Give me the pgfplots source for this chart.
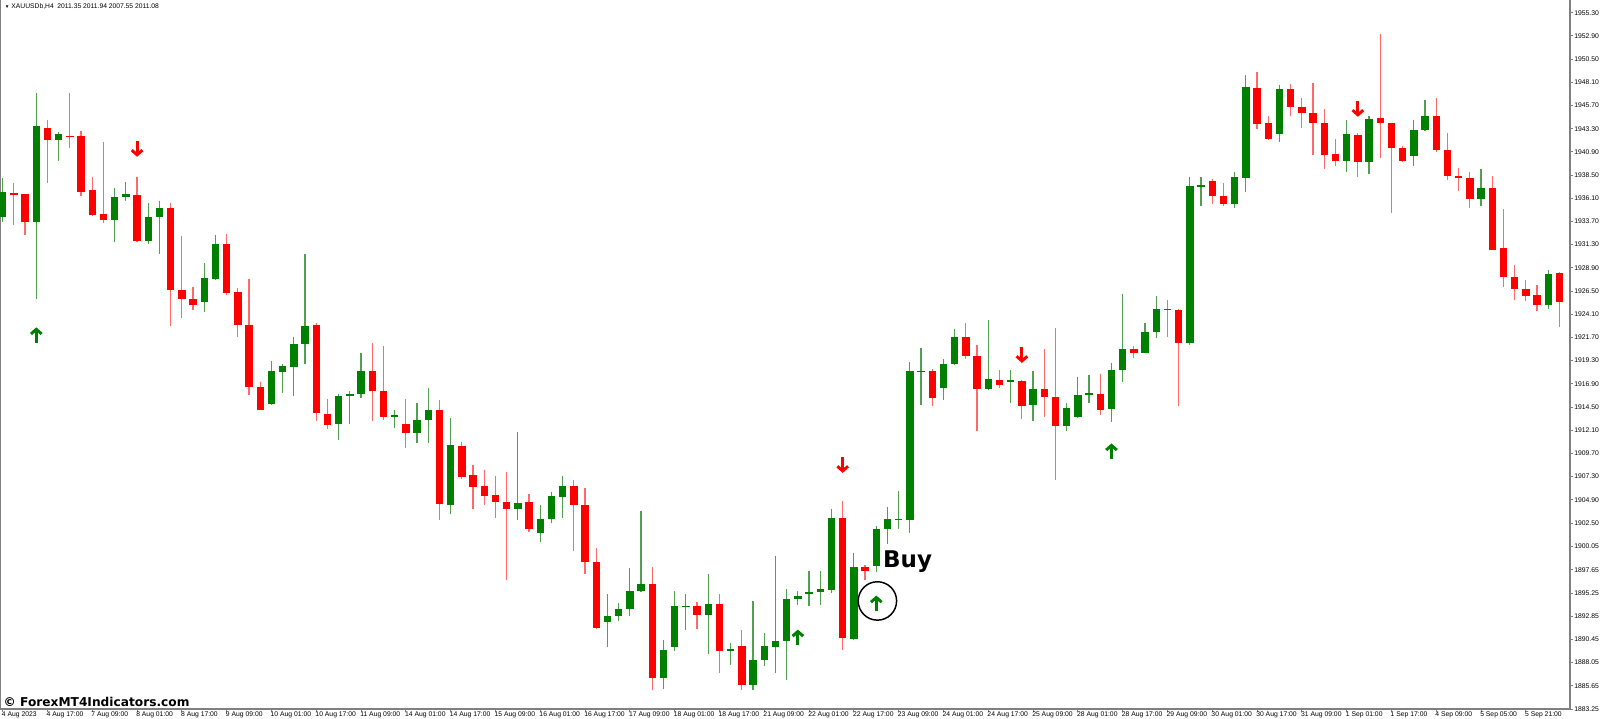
\documentclass[border=0pt]{standalone}
\usepackage{fontspec}
\setmainfont{Liberation Sans}
\newfontfamily\deja{DejaVu Sans}
\usepackage{pgfplots}
\pgfplotsset{compat=1.18}
\usepackage{pgfplotstable}
\usetikzlibrary{arrows.meta}

\definecolor{bull}{RGB}{0,128,0}
\definecolor{bear}{RGB}{255,0,0}
\definecolor{bullwick}{RGB}{80,160,80}
\definecolor{bearwick}{RGB}{255,105,105}
\definecolor{frame}{RGB}{128,128,128}

% XAUUSD H4 candles, bar index i, open high low close
\pgfplotstableread{
i o h l c
0 1934.18 1938.16 1933.63 1936.77
3 1933.63 1947.02 1925.63 1943.60
5 1942.12 1942.98 1939.95 1942.74
10 1933.84 1937.18 1931.59 1936.22
11 1936.19 1937.81 1935.81 1936.50
13 1931.70 1935.57 1931.33 1934.18
14 1934.18 1935.81 1930.39 1935.11
18 1925.38 1929.36 1924.35 1927.81
19 1927.73 1932.29 1927.63 1931.33
24 1914.87 1919.24 1914.69 1918.21
25 1918.14 1918.94 1915.96 1918.73
26 1918.65 1921.76 1915.65 1921.04
27 1921.04 1930.32 1919.01 1922.94
30 1912.69 1915.90 1911.07 1915.65
31 1915.65 1916.17 1912.80 1915.90
32 1915.83 1920.04 1915.38 1918.21
35 1913.48 1914.17 1912.34 1913.65
37 1911.79 1914.87 1910.79 1913.11
38 1913.11 1916.42 1910.79 1914.17
40 1904.37 1913.42 1903.41 1910.58
46 1903.96 1911.89 1902.86 1904.63
48 1901.47 1904.41 1900.54 1902.96
49 1902.89 1905.72 1902.55 1905.27
50 1905.20 1907.41 1903.06 1906.30
54 1892.26 1895.20 1889.67 1892.92
55 1892.85 1894.19 1892.33 1893.64
56 1893.64 1897.89 1892.88 1895.47
57 1895.44 1903.79 1895.36 1896.19
59 1886.46 1890.43 1885.36 1889.40
60 1889.67 1895.47 1889.22 1893.88
61 1893.78 1895.20 1891.40 1893.95
63 1892.98 1897.19 1888.91 1894.09
65 1889.25 1890.12 1887.85 1889.43
67 1885.70 1894.40 1885.26 1888.29
68 1888.29 1891.12 1887.67 1889.74
69 1889.69 1899.06 1887.02 1890.26
70 1890.29 1895.64 1886.22 1894.61
71 1894.61 1895.44 1894.02 1894.99
72 1895.20 1897.50 1893.91 1895.40
73 1895.40 1897.50 1894.02 1895.67
74 1895.61 1904.00 1895.30 1903.06
76 1890.54 1899.40 1890.43 1897.95
78 1898.05 1902.16 1897.43 1901.85
79 1901.85 1904.16 1900.37 1902.89
80 1902.82 1905.79 1901.93 1902.92
81 1902.86 1919.14 1901.47 1918.21
82 1918.14 1920.56 1914.69 1918.24
84 1916.48 1919.48 1915.28 1918.96
85 1918.96 1922.63 1918.83 1921.73
88 1916.32 1923.56 1916.24 1917.38
90 1917.17 1918.31 1914.93 1917.28
92 1914.69 1918.23 1913.03 1916.33
95 1912.55 1914.93 1912.03 1914.41
96 1913.48 1917.62 1913.40 1915.73
97 1915.80 1917.87 1914.97 1915.90
99 1914.27 1919.07 1912.96 1918.31
100 1918.31 1926.25 1917.10 1920.52
102 1920.10 1923.21 1920.04 1922.25
103 1922.25 1926.05 1921.66 1924.66
106 1921.14 1938.32 1920.90 1937.36
107 1937.33 1938.32 1935.32 1937.46
110 1935.50 1938.88 1935.11 1938.26
111 1938.22 1948.85 1936.74 1947.58
114 1942.80 1947.82 1941.97 1947.37
120 1939.95 1944.19 1938.78 1942.71
122 1939.88 1944.61 1938.57 1944.33
126 1940.50 1944.19 1939.46 1943.16
127 1943.16 1946.26 1943.05 1944.64
132 1936.01 1939.09 1935.32 1937.18
138 1925.04 1928.66 1924.70 1928.32
}\bulltab

\pgfplotstableread{
i o h l c
1 1936.67 1937.70 1933.32 1936.50
2 1936.50 1936.60 1932.29 1933.63
4 1943.40 1944.19 1937.70 1942.12
6 1942.57 1946.96 1941.33 1942.47
7 1942.54 1943.05 1936.33 1936.77
8 1936.95 1938.32 1934.25 1934.39
9 1934.46 1941.88 1933.50 1933.84
12 1936.43 1938.26 1931.56 1931.70
15 1935.11 1935.57 1922.90 1926.59
16 1926.59 1932.22 1923.73 1925.69
17 1925.73 1926.87 1924.52 1925.04
20 1931.33 1932.46 1926.08 1926.36
21 1926.42 1926.77 1921.76 1922.97
22 1922.97 1927.73 1915.80 1916.58
23 1916.58 1917.10 1914.17 1914.24
28 1922.97 1923.15 1913.03 1913.83
29 1913.83 1915.31 1912.21 1912.69
33 1918.21 1921.08 1913.06 1916.21
34 1916.17 1920.87 1913.14 1913.48
36 1912.75 1915.38 1910.31 1911.79
39 1914.17 1915.21 1902.86 1904.44
41 1910.52 1910.86 1907.10 1907.21
42 1907.52 1908.48 1903.96 1906.23
43 1906.30 1907.96 1904.41 1905.30
44 1905.37 1907.41 1903.06 1904.65
45 1904.72 1907.78 1896.65 1903.96
47 1904.68 1905.48 1901.57 1901.93
51 1906.30 1906.93 1899.61 1904.41
52 1904.41 1906.17 1897.19 1898.47
53 1898.51 1899.89 1891.53 1891.64
58 1896.16 1897.95 1885.26 1886.46
62 1893.95 1894.29 1891.58 1892.98
64 1894.09 1895.12 1886.98 1889.22
66 1889.81 1891.40 1885.26 1885.70
75 1903.06 1904.75 1889.40 1890.64
77 1897.95 1898.13 1896.65 1897.54
83 1918.24 1918.39 1914.59 1915.49
86 1921.73 1923.15 1919.52 1919.76
87 1919.76 1920.90 1912.00 1916.32
89 1917.35 1918.31 1916.42 1916.83
91 1917.17 1917.35 1913.24 1914.59
93 1916.32 1920.46 1913.48 1915.49
94 1915.49 1922.63 1906.93 1912.55
98 1915.83 1917.97 1913.65 1914.24
101 1920.56 1920.80 1919.59 1920.10
104 1924.70 1925.56 1921.76 1924.52
105 1924.52 1924.60 1914.62 1921.14
108 1937.88 1938.05 1935.50 1936.33
109 1936.33 1937.64 1935.32 1935.50
112 1947.50 1949.19 1943.29 1943.81
113 1943.91 1944.61 1942.09 1942.26
115 1947.37 1947.89 1944.64 1945.57
116 1945.54 1946.44 1943.33 1944.89
117 1944.89 1948.05 1940.57 1943.85
118 1943.91 1945.30 1939.19 1940.57
119 1940.64 1942.22 1939.46 1939.95
121 1942.71 1942.82 1938.32 1939.88
123 1944.37 1953.10 1940.23 1943.85
124 1943.85 1943.91 1934.60 1941.26
125 1941.26 1941.50 1939.88 1939.95
128 1944.64 1946.44 1940.91 1941.09
129 1941.09 1942.82 1937.98 1938.40
130 1938.40 1939.19 1936.87 1938.26
131 1938.22 1938.84 1935.11 1936.01
133 1937.22 1938.40 1930.73 1930.81
134 1930.91 1934.95 1926.94 1927.91
135 1927.91 1929.18 1925.56 1926.67
136 1926.67 1927.63 1925.45 1925.97
137 1926.08 1927.11 1924.42 1925.04
139 1928.38 1928.49 1922.81 1925.38
}\beartab

\begin{document}
\begin{tikzpicture}
\begin{axis}[
  scale only axis,
  width=1177.5pt, height=531.75pt,
  xmin=-0.241, xmax=139.94,
  ymin=1883.25, ymax=1956.615,
  clip=false,
  axis x line*=bottom,
  axis line style={frame, line width=1.2pt},
  tick align=outside,
  major tick length=2.25pt,
  tick style={frame, line width=0.6pt},
  xtick pos=bottom,
  ytick pos=right,
  yticklabel pos=right,
  scaled y ticks=false,
  tick label style={font=\fontsize{5.1pt}{6pt}\selectfont, text=black},
  yticklabel style={anchor=west, inner sep=0pt, xshift=0.8pt},
  xticklabel style={anchor=north west, inner sep=0pt, xshift=-0.8pt, yshift=0.6pt},
  xtick={0,4,...,136},
  xticklabels={4 Aug 2023,4 Aug 17:00,7 Aug 09:00,8 Aug 01:00,8 Aug 17:00,9 Aug 09:00,10 Aug 01:00,10 Aug 17:00,11 Aug 09:00,14 Aug 01:00,14 Aug 17:00,15 Aug 09:00,16 Aug 01:00,16 Aug 17:00,17 Aug 09:00,18 Aug 01:00,18 Aug 17:00,21 Aug 09:00,22 Aug 01:00,22 Aug 17:00,23 Aug 09:00,24 Aug 01:00,24 Aug 17:00,25 Aug 09:00,28 Aug 01:00,28 Aug 17:00,29 Aug 09:00,30 Aug 01:00,30 Aug 17:00,31 Aug 09:00,1 Sep 01:00,1 Sep 17:00,4 Sep 09:00,5 Sep 05:00,5 Sep 21:00},
  ytick={1883.25,1885.65,1888.05,1890.45,1892.85,1895.25,1897.65,1900.05,1902.50,1904.90,1907.30,1909.70,1912.10,1914.50,1916.90,1919.30,1921.70,1924.10,1926.50,1928.90,1931.30,1933.70,1936.10,1938.50,1940.90,1943.30,1945.70,1948.10,1950.50,1952.90,1955.30},
  yticklabels={1883.25,1885.65,1888.05,1890.45,1892.85,1895.25,1897.65,1900.05,1902.50,1904.90,1907.30,1909.70,1912.10,1914.50,1916.90,1919.30,1921.70,1924.10,1926.50,1928.90,1931.30,1933.70,1936.10,1938.50,1940.90,1943.30,1945.70,1948.10,1950.50,1952.90,1955.30},
]

% wicks
\addplot[draw=none, mark=none, error bars/.cd, y dir=both, y explicit, error mark=none,
  error bar style={line width=0.9pt, draw=bullwick}]
  table[x=i, y expr={(\thisrow{h}+\thisrow{l})/2}, y error expr={(\thisrow{h}-\thisrow{l})/2}] {\bulltab};
\addplot[draw=none, mark=none, error bars/.cd, y dir=both, y explicit, error mark=none,
  error bar style={line width=0.9pt, draw=bearwick}]
  table[x=i, y expr={(\thisrow{h}+\thisrow{l})/2}, y error expr={(\thisrow{h}-\thisrow{l})/2}] {\beartab};

% bodies
\addplot[draw=none, mark=none, error bars/.cd, y dir=both, y explicit, error mark=none,
  error bar style={line width=5.6pt, draw=bull}]
  table[x=i, y expr={(\thisrow{o}+\thisrow{c})/2}, y error expr={abs(\thisrow{c}-\thisrow{o})/2}] {\bulltab};
\addplot[draw=none, mark=none, error bars/.cd, y dir=both, y explicit, error mark=none,
  error bar style={line width=5.6pt, draw=bear}]
  table[x=i, y expr={(\thisrow{o}+\thisrow{c})/2}, y error expr={abs(\thisrow{c}-\thisrow{o})/2}] {\beartab};

% signal arrows
\addplot[bull, line width=2.2pt, -{Straight Barb[length=3.5pt,width=8pt]}, quiver={u=0, v=1.6}]
  table[x=i, y=y] {
i y
3 1921.14
71 1889.87
78 1893.39
99 1909.13
};
\addplot[bear, line width=2.2pt, -{Straight Barb[length=3.5pt,width=8pt]}, quiver={u=0, v=-1.6}]
  table[x=i, y=y] {
i y
12 1941.99
75 1909.28
91 1920.66
121 1946.13
};

% circle round the buy arrow
\addplot[only marks, mark=o, mark size=14.4pt, mark options={line width=1.1pt, draw=black}]
  coordinates {(78.1,1894.43)};

\node[font=\deja\bfseries\fontsize{17.25pt}{20pt}\selectfont, inner sep=0pt] at (axis cs:80.8,1898.49) {Buy};

\node[anchor=base west, inner sep=0pt, font=\deja\bfseries\fontsize{9.15pt}{11pt}\selectfont]
  at (axis description cs:0.0022,0.0042) {© ForexMT4Indicators.com};

\node[anchor=west, inner sep=0pt, font=\fontsize{5.05pt}{6pt}\selectfont]
  at (axis description cs:0.003,0.9915) {{\fontsize{3.5pt}{4pt}\selectfont▼}\ XAUUSDb,H4\ \ 2011.35 2011.94 2007.55 2011.08};

\end{axis}
\pgfresetboundingbox
\path[use as bounding box] ([yshift=-7.5pt]current axis.south west) rectangle ([xshift=22.5pt]current axis.north east);
\end{tikzpicture}
\end{document}
